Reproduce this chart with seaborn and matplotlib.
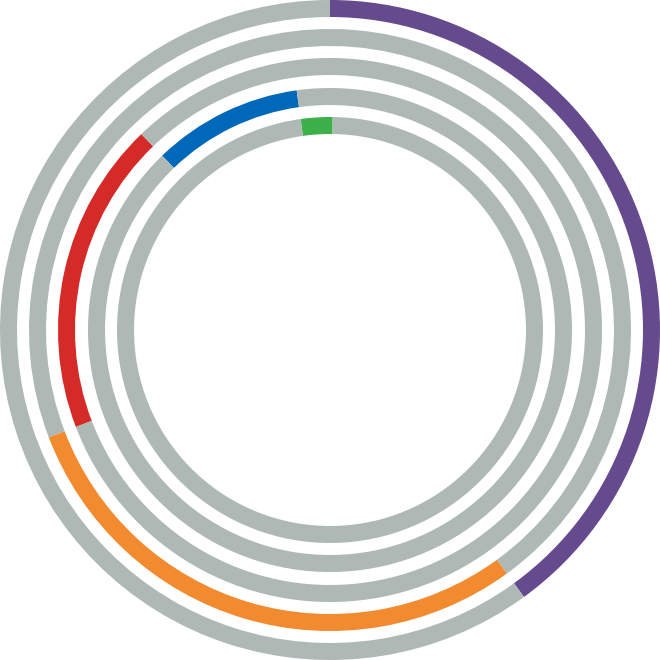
import matplotlib
matplotlib.use("Agg")
import matplotlib.pyplot as plt
import seaborn as sns

sns.set_theme(style="white")

categories = ["A", "B", "C", "D", "E"]
values = [40.0, 29.2, 18.6, 10.0, 2.4]
colors = ["#654a8d", "#f28a30", "#d42a28", "#0068b8", "#3cb14a"]
track_color = "#aeb8b4"

radii = [330, 301, 272, 242, 213]
width = 17

fig = plt.figure(figsize=(6.6, 6.6), dpi=100)
ax = fig.add_axes([0, 0, 1, 1])
start = 0.0
for v, c, r in zip(values, colors, radii):
    ax.pie([v, 100 - v], colors=[c, track_color], radius=r,
           startangle=90 - start * 3.6, counterclock=False,
           wedgeprops=dict(width=width, linewidth=0))
    start += v
ax.set_xlim(-330, 330)
ax.set_ylim(-330, 330)
ax.set_aspect("equal")
ax.axis("off")
fig.savefig("out.png", dpi=100, facecolor="white")
